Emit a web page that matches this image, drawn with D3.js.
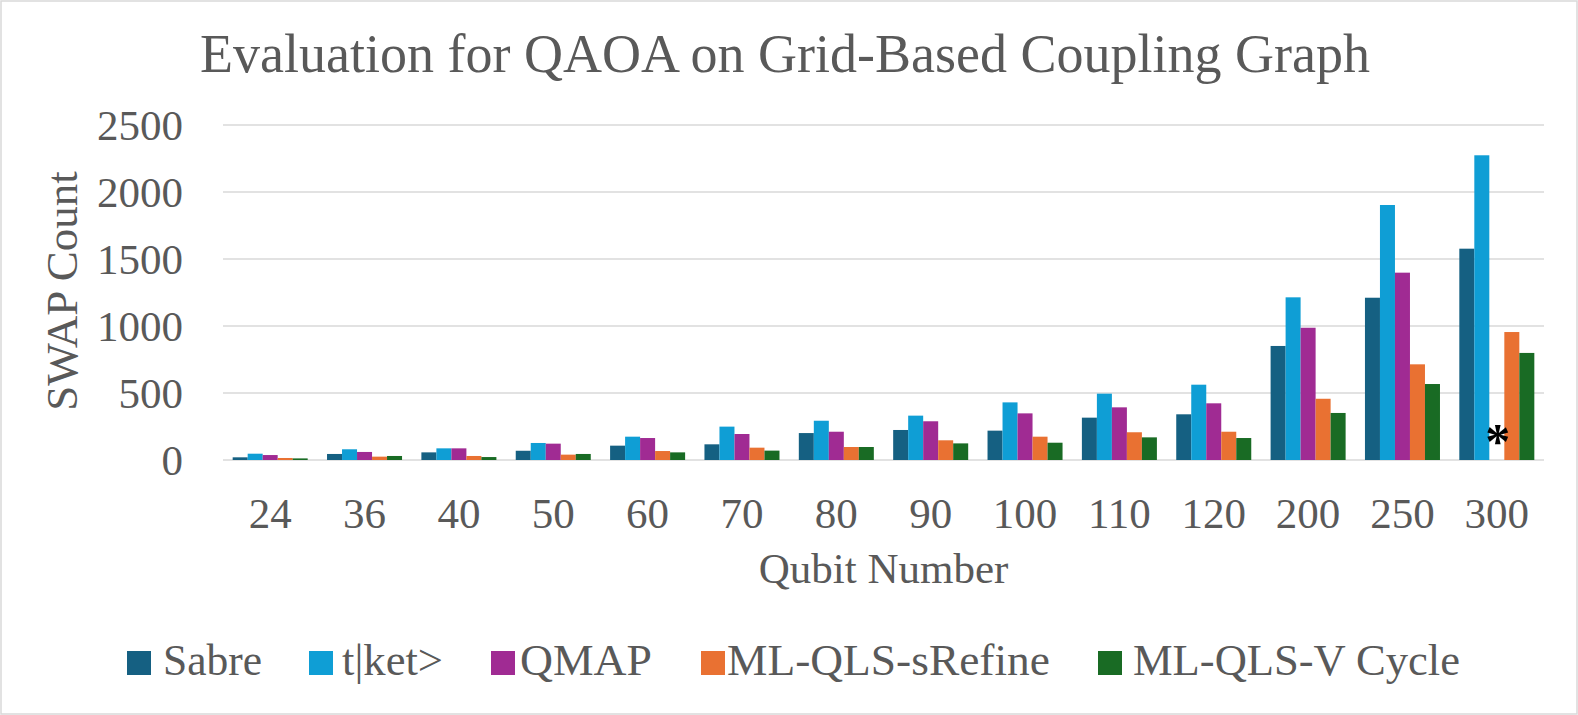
<!DOCTYPE html>
<html>
<head>
<meta charset="utf-8">
<script src="https://cdn.jsdelivr.net/npm/d3@7"></script>
<style>
  html, body { margin: 0; padding: 0; background: #fff; }
  svg { display: block; }
  text { font-family: "Liberation Serif", "Times New Roman", serif; fill: #595959; }
</style>
</head>
<body>
<svg id="chart" width="1578" height="715"></svg>
<script>
const categories = ["24", "36", "40", "50", "60", "70", "80", "90", "100", "110", "120", "200", "250", "300"];
const seriesNames = ["Sabre", "t|ket>", "QMAP", "ML-QLS-sRefine", "ML-QLS-V Cycle"];
const sabre   = [20, 45, 57, 69, 107, 117, 201, 224, 219, 316, 341, 851, 1211, 1577];
const tket    = [47, 80, 87, 127, 174, 249, 293, 331, 430, 495, 562, 1214, 1903, 2274];
const qmap    = [37, 60, 87, 122, 164, 194, 211, 289, 348, 393, 423, 987, 1398, null];
const srefine = [15, 25, 30, 40, 67, 92, 97, 147, 174, 207, 211, 457, 714, 955];
const vcycle  = [12, 30, 22, 45, 57, 70, 97, 124, 129, 169, 164, 351, 567, 799];
const yTicks  = [0, 500, 1000, 1500, 2000, 2500];
const colors  = ["#156082", "#0f9ed5", "#a02b93", "#e97132", "#196b24"];

const seriesValues = [sabre, tket, qmap, srefine, vcycle];

const svg = d3.select("#chart");
const W = 1578, H = 715;
const plot = { left: 223, right: 1544, top: 125, bottom: 460 };

// chart border
svg.append("rect").attr("x", 1).attr("y", 1).attr("width", W - 2).attr("height", H - 2)
  .attr("fill", "#fff").attr("stroke", "#d9d9d9").attr("stroke-width", 1.5);

const x0 = d3.scaleBand().domain(categories).range([plot.left, plot.right])
  .paddingInner(0.205).paddingOuter(0.1025);
const x1 = d3.scaleBand().domain(seriesNames).range([0, x0.bandwidth()]);
const y = d3.scaleLinear().domain([0, 2500]).range([plot.bottom, plot.top]);

// gridlines
svg.append("g").selectAll("line").data(yTicks).join("line")
  .attr("x1", plot.left).attr("x2", plot.right)
  .attr("y1", d => y(d)).attr("y2", d => y(d))
  .attr("stroke", "#d9d9d9").attr("stroke-width", 1.5);

// y axis labels
const yAxis = d3.axisLeft(y).tickValues(yTicks).tickFormat(d3.format("d")).tickSize(0).tickPadding(0);
const gy = svg.append("g").attr("transform", `translate(183,0)`).call(yAxis);
gy.select(".domain").remove();
gy.selectAll("text").attr("font-size", 43).attr("fill", "#595959")
  .attr("font-family", "Liberation Serif, Times New Roman, serif").attr("dy", "0.34em");

// bars
const groups = svg.append("g").selectAll("g").data(categories).join("g")
  .attr("transform", d => `translate(${x0(d)},0)`);
groups.selectAll("rect")
  .data((c, i) => seriesNames.map((s, k) => ({ s, k, v: seriesValues[k][i] })).filter(d => d.v !== null))
  .join("rect")
  .attr("x", d => x1(d.s)).attr("width", x1.bandwidth())
  .attr("y", d => y(d.v)).attr("height", d => y(0) - y(d.v))
  .attr("fill", d => colors[d.k]);

// missing-value marker
categories.forEach((c, i) => {
  seriesValues.forEach((arr, k) => {
    if (arr[i] === null) {
      svg.append("text").attr("x", x0(c) + x1(seriesNames[k]) + x1.bandwidth() / 2 + 1)
        .attr("y", y(0) - 2).attr("text-anchor", "middle")
        .attr("font-size", 50).attr("font-weight", "bold").style("fill", "#000").text("*");
    }
  });
});

// x axis labels
const xAxis = d3.axisBottom(x0).tickSize(0).tickPadding(0);
const gx = svg.append("g").attr("transform", `translate(0,${plot.bottom})`).call(xAxis);
gx.select(".domain").remove();
gx.selectAll("text").attr("font-size", 43).attr("fill", "#595959")
  .attr("font-family", "Liberation Serif, Times New Roman, serif")
  .attr("dy", null).attr("y", 68);

// titles
svg.append("text").attr("x", 785).attr("y", 72).attr("text-anchor", "middle")
  .attr("font-size", 54).text("Evaluation for QAOA on Grid-Based Coupling Graph");
svg.append("text").attr("x", (plot.left + plot.right) / 2).attr("y", 583).attr("text-anchor", "middle")
  .attr("font-size", 43).text("Qubit Number");
svg.append("text").attr("transform", `translate(77,291) rotate(-90)`).attr("text-anchor", "middle")
  .attr("font-size", 45).text("SWAP Count");

// legend
const legendSq = [127, 309, 491, 701, 1098];
const legendTx = [163, 342, 520, 727, 1133];
const legendW  = [99, 101, 132, 323, 327];
const leg = svg.append("g").selectAll("g").data(seriesNames).join("g");
leg.append("rect").attr("x", (d, i) => legendSq[i]).attr("y", 651).attr("width", 24).attr("height", 24)
  .attr("fill", (d, i) => colors[i]);
leg.append("text").attr("x", (d, i) => legendTx[i]).attr("y", 675).attr("font-size", 44)
  .attr("textLength", (d, i) => legendW[i]).attr("lengthAdjust", "spacingAndGlyphs").text(d => d);
</script>
</body>
</html>
